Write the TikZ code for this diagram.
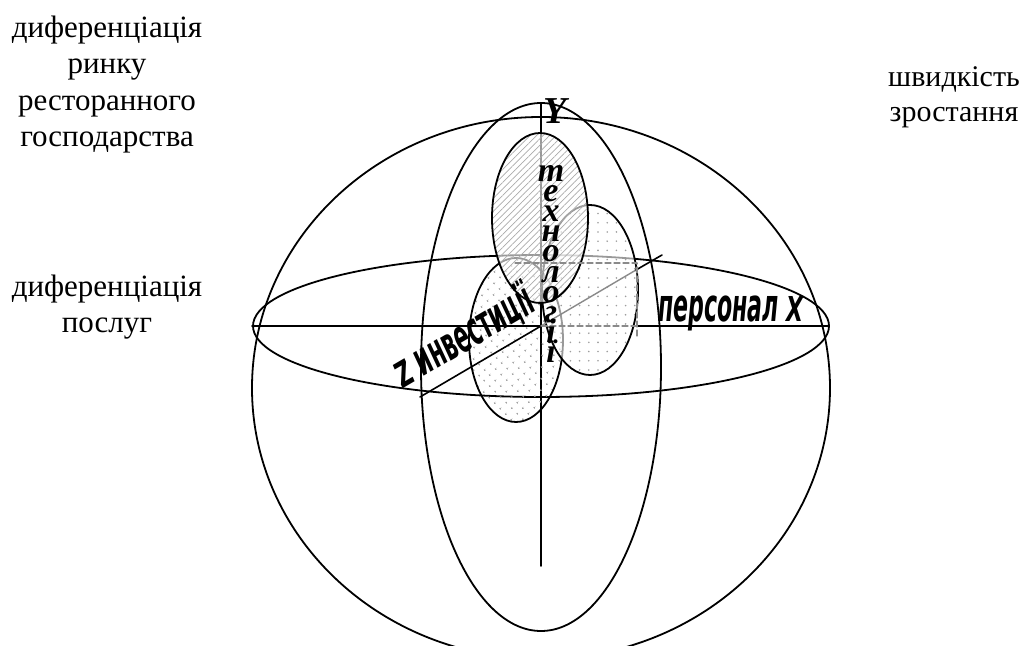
\documentclass[tikz,border=0pt]{standalone}
\usepackage{fontspec}
\setmainfont{Liberation Serif}
\setsansfont{Liberation Sans}
\newfontfamily\spHeavy{DejaVu Sans}
\usepackage{graphicx}
\usepackage{tikz}
\usetikzlibrary{patterns.meta}
\definecolor{spInk}{HTML}{000000}
\definecolor{spHidden}{HTML}{8A8A8A}
\definecolor{spHatch}{HTML}{ABABAB}
\definecolor{spDots}{HTML}{9E9E9E}
\newcommand{\spTight}{\lineskiplimit=-20pt\relax}
\tikzset{
  sp diagram/.style={x=0.5pt, y=-0.5pt, line cap=round, line join=round},
  sp line/.style={draw=spInk, line width=0.9pt},
  sp axis/.style={draw=spInk, line width=0.8pt},
  sp hidden/.style={draw=spHidden, line width=0.7pt},
  sp projection/.style={sp hidden, line width=0.6pt, dash pattern=on 3pt off 1.5pt},
  sp veil/.style={preaction={fill=white, fill opacity=0.6}},
  sp hatched/.style={sp line, sp veil, pattern={Lines[angle=45,distance=2.3pt,line width=0.35pt]}, pattern color=spHatch},
  sp dotted/.style={sp line, pattern={Dots[distance=4.6pt,radius=0.45pt]}, pattern color=spDots},
  sp text/.style={font=\fontsize{15.5}{18.3}\selectfont, align=center, inner sep=0pt},
  sp axis label/.style={font=\spHeavy\bfseries\itshape\fontsize{16}{18}\selectfont, inner sep=0pt},
  sp letter/.style={font=\bfseries\itshape\fontsize{17}{10.1}\selectfont\spTight, align=center, inner sep=0pt}
}
\begin{document}
\begin{tikzpicture}[sp diagram]
\useasboundingbox (0,0) rectangle (1024,646);
\clip (0,0) rectangle (1024,646);
\coordinate (o) at (541,326);
\coordinate (xl) at (252,326);
\coordinate (xr) at (829,326);
\coordinate (xm) at (637,326);
\coordinate (yt) at (541,103);
\coordinate (yb) at (541,566);
\coordinate (zn) at (420,397);
\coordinate (zm) at (636,270);
\coordinate (zp) at (662,255);
\coordinate (pc) at (637,263);
\coordinate (pl) at (515,263);
\coordinate (pb) at (637,337);
\draw[sp line] (541,388) ellipse [x radius=289, y radius=271];
\draw[sp line] (541,367) ellipse [x radius=120, y radius=264];
\draw[sp line] (541,326) ellipse [x radius=288, y radius=71];
\draw[sp axis] (yt) -- (yb);
\draw[sp dotted, pattern={Dots[distance=4pt,radius=0.55pt,angle=45]}] (516,340) ellipse [x radius=47, y radius=82];
\draw[sp dotted, sp veil] (590,290) ellipse [x radius=48, y radius=85];
\draw[sp hatched] (540,218) ellipse [x radius=48, y radius=85];
\draw[sp axis] (xl) -- (o);
\draw[sp projection] (o) -- (xm);
\draw[sp axis] (xm) -- (xr);
\draw[sp axis] (zn) -- (o);
\draw[sp hidden] (o) -- (zm);
\draw[sp axis] (zm) -- (zp);
\draw[sp projection] (pl) -- (pc) -- (pb);
\node[sp text, anchor=base] (market) at (107,147) {диференціація\\ринку\\ресторанного\\господарства};
\node[sp text, anchor=base] (services) at (107,333) {диференціація\\послуг};
\node[sp text, font=\fontsize{15}{17.5}\selectfont, anchor=base] (growth) at (954,122) {швидкість\\зростання};
\node[font=\bfseries\itshape\fontsize{19}{20}\selectfont, inner sep=0pt, anchor=base] (ylabel) at (555,124) {Y};
\node[sp letter, anchor=base] (tech) at (551,363) {т\\е\\х\\н\\о\\л\\о\\г\\і\\ї};
\node[sp axis label, anchor=base west] (staff) at (658,322) {\scalebox{0.69}[1.43]{персонал \scalebox{1}[0.75]{X}}};
\node[sp axis label, anchor=base west, rotate=30.4] (invest) at (403,389) {\scalebox{0.69}[1.43]{\scalebox{1}[0.75]{Z} инвестиції}};
\end{tikzpicture}
\end{document}
